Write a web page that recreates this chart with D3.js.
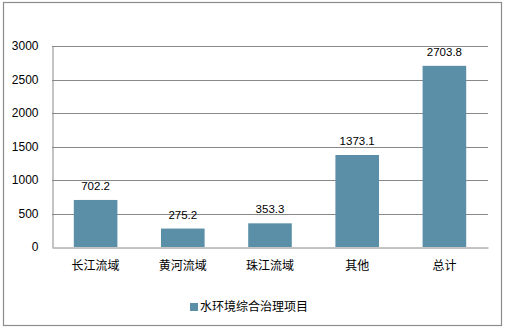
<!DOCTYPE html>
<html>
<head>
<meta charset="utf-8">
<script src="https://cdn.jsdelivr.net/npm/d3@7"></script>
<style>
  html, body { margin: 0; padding: 0; background: #fff; }
  svg { display: block; }
</style>
</head>
<body>
<svg id="chart" width="507" height="333"></svg>
<script>
// Water environment comprehensive treatment projects by basin
const categories = ["长江流域", "黄河流域", "珠江流域", "其他", "总计"];
const values = [702.2, 275.2, 353.3, 1373.1, 2703.8];
const yTicks = [0, 500, 1000, 1500, 2000, 2500, 3000];
const seriesName = "水环境综合治理项目";

const W = 507, H = 333;
const margin = { left: 52, right: 19, top: 46, bottom: 86 };
const barColor = "#5b8fa7";
const gridColor = "#888888";
const latinFont = "'Liberation Sans', Arial, sans-serif";
const cjkFont = "'Noto Sans CJK SC', sans-serif";

const svg = d3.select("#chart");

// outer frame
svg.append("rect")
  .attr("x", 3.5).attr("y", 2.5)
  .attr("width", 498).attr("height", 323)
  .attr("fill", "#fff")
  .attr("stroke", "#8c8c8c")
  .attr("stroke-width", 1.2);

const x = d3.scaleBand()
  .domain(categories)
  .range([margin.left, W - margin.right])
  .paddingInner(0.5)
  .paddingOuter(0.25);

const y = d3.scaleLinear()
  .domain([0, 3000])
  .range([H - margin.bottom, margin.top]);

// horizontal gridlines
svg.append("g")
  .selectAll("line")
  .data(yTicks.filter(d => d > 0))
  .join("line")
  .attr("x1", margin.left)
  .attr("x2", W - margin.right)
  .attr("y1", d => Math.round(y(d)) + 0.5)
  .attr("y2", d => Math.round(y(d)) + 0.5)
  .attr("stroke", gridColor)
  .attr("stroke-width", 1);

// y axis
const yAxis = svg.append("g")
  .attr("transform", `translate(${margin.left + 0.5},0)`)
  .call(d3.axisLeft(y).tickValues(yTicks).tickFormat(d3.format("d")).tickSize(0).tickPadding(14));
yAxis.select(".domain").attr("stroke", gridColor);
yAxis.selectAll("text")
  .attr("font-family", latinFont)
  .attr("font-size", 12)
  .attr("fill", "#000");

// bars
svg.append("g")
  .selectAll("rect")
  .data(values)
  .join("rect")
  .attr("x", (d, i) => x(categories[i]))
  .attr("width", x.bandwidth())
  .attr("y", d => y(d))
  .attr("height", d => y(0) - y(d))
  .attr("fill", barColor);

// value labels
svg.append("g")
  .selectAll("text")
  .data(values)
  .join("text")
  .attr("x", (d, i) => x(categories[i]) + x.bandwidth() / 2)
  .attr("y", d => y(d) - 10)
  .attr("text-anchor", "middle")
  .attr("font-family", latinFont)
  .attr("font-size", 11.5)
  .attr("fill", "#000")
  .text(d => d.toFixed(1));

// x axis
const xAxis = svg.append("g")
  .attr("transform", `translate(0,${Math.round(y(0)) + 0.5})`)
  .call(d3.axisBottom(x).tickSize(0).tickPadding(14));
xAxis.select(".domain").attr("stroke", gridColor);
xAxis.selectAll("text")
  .attr("font-family", cjkFont)
  .attr("font-size", 12)
  .attr("fill", "#000");

// legend
const legend = svg.append("g").attr("transform", "translate(190,307)");
legend.append("rect")
  .attr("x", 0).attr("y", -4)
  .attr("width", 8).attr("height", 8)
  .attr("fill", barColor);
legend.append("text")
  .attr("x", 10).attr("y", 0)
  .attr("dy", "0.35em")
  .attr("font-family", cjkFont)
  .attr("font-size", 12)
  .attr("fill", "#000")
  .text(seriesName);
</script>
</body>
</html>
